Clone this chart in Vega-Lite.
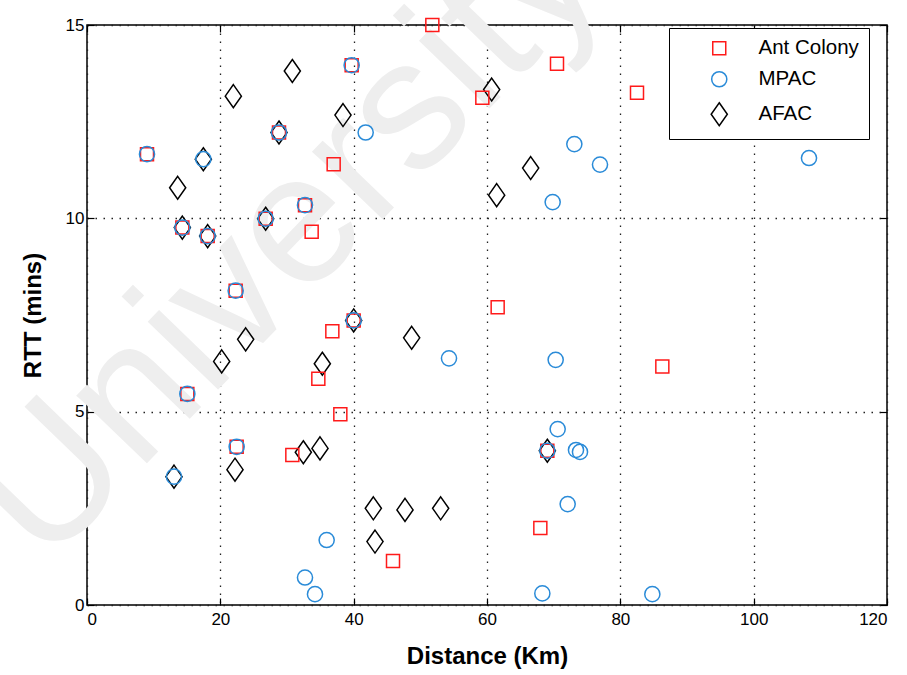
{
  "$schema": "https://vega.github.io/schema/vega-lite/v6.json",
  "width": 800,
  "height": 580,
  "autosize": "none",
  "padding": {"left": 87, "top": 25, "right": 20, "bottom": 70},
  "background": "white",
  "config": {
    "font": "Liberation Sans",
    "view": {"stroke": "black", "strokeWidth": 1.5}
  },
  "resolve": {"axis": {"x": "independent", "y": "independent"}},
  "layer": [
    {
      "data": {"values": [{"x": 30.0, "y": 9.5, "t": "University"}]},
      "mark": {"type": "text", "angle": -46, "fontSize": 185, "color": "#eeeeee", "align": "center", "baseline": "middle", "font": "Liberation Sans"},
      "encoding": {
        "x": {"field": "x", "type": "quantitative", "scale": {"domain": [0, 120], "nice": false}, "axis": {"orient": "top", "labels": false, "grid": false, "domain": false, "ticks": true, "tickSize": -7, "tickColor": "black", "tickWidth": 1.2, "values": [0, 20, 40, 60, 80, 100, 120], "title": null}},
        "y": {"field": "y", "type": "quantitative", "scale": {"domain": [0, 15], "nice": false}, "axis": {"orient": "right", "labels": false, "grid": false, "domain": false, "ticks": true, "tickSize": -7, "tickColor": "black", "tickWidth": 1.2, "values": [0, 5, 10, 15], "title": null}},
        "text": {"field": "t"}
      }
    },
    {
      "data": {"values": [
        {"series": "MPAC", "x": 39.7, "y": 13.96},
        {"series": "MPAC", "x": 41.8, "y": 12.22},
        {"series": "MPAC", "x": 9.0, "y": 11.66},
        {"series": "MPAC", "x": 17.45, "y": 11.53},
        {"series": "MPAC", "x": 32.7, "y": 10.34},
        {"series": "MPAC", "x": 14.3, "y": 9.76},
        {"series": "MPAC", "x": 18.1, "y": 9.54},
        {"series": "MPAC", "x": 22.3, "y": 8.13},
        {"series": "MPAC", "x": 15.05, "y": 5.46},
        {"series": "MPAC", "x": 22.45, "y": 4.09},
        {"series": "MPAC", "x": 13.05, "y": 3.32},
        {"series": "MPAC", "x": 35.95, "y": 1.68},
        {"series": "MPAC", "x": 32.7, "y": 0.71},
        {"series": "MPAC", "x": 34.2, "y": 0.28},
        {"series": "MPAC", "x": 73.1, "y": 11.92},
        {"series": "MPAC", "x": 76.95, "y": 11.39},
        {"series": "MPAC", "x": 69.85, "y": 10.42},
        {"series": "MPAC", "x": 108.3, "y": 11.56},
        {"series": "MPAC", "x": 54.3, "y": 6.38},
        {"series": "MPAC", "x": 70.3, "y": 6.34},
        {"series": "MPAC", "x": 70.6, "y": 4.55},
        {"series": "MPAC", "x": 73.35, "y": 4.01},
        {"series": "MPAC", "x": 73.95, "y": 3.96},
        {"series": "MPAC", "x": 72.1, "y": 2.61},
        {"series": "MPAC", "x": 68.3, "y": 0.3},
        {"series": "MPAC", "x": 84.8, "y": 0.28},
        {"series": "MPAC", "x": 28.8, "y": 12.22},
        {"series": "MPAC", "x": 26.8, "y": 9.99},
        {"series": "MPAC", "x": 40.0, "y": 7.36},
        {"series": "MPAC", "x": 69.05, "y": 3.99},
        {"series": "Ant Colony", "x": 51.8, "y": 15.0},
        {"series": "Ant Colony", "x": 70.5, "y": 14.0},
        {"series": "Ant Colony", "x": 82.5, "y": 13.25},
        {"series": "Ant Colony", "x": 59.3, "y": 13.12},
        {"series": "Ant Colony", "x": 39.7, "y": 13.96},
        {"series": "Ant Colony", "x": 28.8, "y": 12.22},
        {"series": "Ant Colony", "x": 37.0, "y": 11.4},
        {"series": "Ant Colony", "x": 9.0, "y": 11.66},
        {"series": "Ant Colony", "x": 32.7, "y": 10.34},
        {"series": "Ant Colony", "x": 26.8, "y": 9.99},
        {"series": "Ant Colony", "x": 33.7, "y": 9.65},
        {"series": "Ant Colony", "x": 14.3, "y": 9.76},
        {"series": "Ant Colony", "x": 18.1, "y": 9.54},
        {"series": "Ant Colony", "x": 22.3, "y": 8.13},
        {"series": "Ant Colony", "x": 61.6, "y": 7.7},
        {"series": "Ant Colony", "x": 40.0, "y": 7.36},
        {"series": "Ant Colony", "x": 36.8, "y": 7.08},
        {"series": "Ant Colony", "x": 86.3, "y": 6.17},
        {"series": "Ant Colony", "x": 34.7, "y": 5.85},
        {"series": "Ant Colony", "x": 15.05, "y": 5.46},
        {"series": "Ant Colony", "x": 38.0, "y": 4.93},
        {"series": "Ant Colony", "x": 22.45, "y": 4.09},
        {"series": "Ant Colony", "x": 30.8, "y": 3.88},
        {"series": "Ant Colony", "x": 69.05, "y": 3.99},
        {"series": "Ant Colony", "x": 68.0, "y": 1.99},
        {"series": "Ant Colony", "x": 45.9, "y": 1.14},
        {"series": "AFAC", "x": 30.8, "y": 13.81},
        {"series": "AFAC", "x": 21.95, "y": 13.16},
        {"series": "AFAC", "x": 38.4, "y": 12.67},
        {"series": "AFAC", "x": 28.8, "y": 12.22},
        {"series": "AFAC", "x": 17.45, "y": 11.53},
        {"series": "AFAC", "x": 13.6, "y": 10.79},
        {"series": "AFAC", "x": 26.8, "y": 9.99},
        {"series": "AFAC", "x": 14.3, "y": 9.76},
        {"series": "AFAC", "x": 18.1, "y": 9.54},
        {"series": "AFAC", "x": 40.0, "y": 7.36},
        {"series": "AFAC", "x": 23.8, "y": 6.87},
        {"series": "AFAC", "x": 20.2, "y": 6.3},
        {"series": "AFAC", "x": 35.3, "y": 6.24},
        {"series": "AFAC", "x": 32.45, "y": 3.95},
        {"series": "AFAC", "x": 34.95, "y": 4.05},
        {"series": "AFAC", "x": 22.2, "y": 3.5},
        {"series": "AFAC", "x": 13.05, "y": 3.32},
        {"series": "AFAC", "x": 42.95, "y": 2.5},
        {"series": "AFAC", "x": 43.2, "y": 1.64},
        {"series": "AFAC", "x": 47.7, "y": 2.46},
        {"series": "AFAC", "x": 53.05, "y": 2.5},
        {"series": "AFAC", "x": 60.7, "y": 13.33},
        {"series": "AFAC", "x": 66.55, "y": 11.3},
        {"series": "AFAC", "x": 61.45, "y": 10.6},
        {"series": "AFAC", "x": 48.7, "y": 6.91},
        {"series": "AFAC", "x": 69.05, "y": 3.99}
      ]},
      "mark": {"type": "point", "filled": false, "strokeWidth": 1.5, "opacity": 1},
      "encoding": {
        "x": {"field": "x", "type": "quantitative", "scale": {"domain": [0, 120], "nice": false},
          "axis": {"orient": "bottom", "values": [0, 20, 40, 60, 80, 100, 120], "grid": true, "gridDash": [1.5, 6.5], "gridColor": "#222222", "gridWidth": 1.3, "domain": false, "tickSize": -7, "tickColor": "black", "tickWidth": 1.2, "labelPadding": 13, "labelFontSize": 17, "labelColor": "black", "labelFont": "Liberation Sans", "title": "Distance (Km)", "titleFontSize": 24, "titleFontWeight": "bold", "titleColor": "black", "titlePadding": 17, "titleFont": "Liberation Sans"}},
        "y": {"field": "y", "type": "quantitative", "scale": {"domain": [0, 15], "nice": false},
          "axis": {"orient": "left", "values": [0, 5, 10, 15], "grid": true, "gridDash": [1.5, 6.5], "gridColor": "#222222", "gridWidth": 1.3, "domain": false, "tickSize": -7, "tickColor": "black", "tickWidth": 1.2, "labelPadding": 10, "labelFontSize": 17, "labelColor": "black", "labelFont": "Liberation Sans", "title": "RTT (mins)", "titleFontSize": 24, "titleFontWeight": "bold", "titleColor": "black", "titlePadding": 20, "titleFont": "Liberation Sans"}},
        "shape": {"field": "series", "type": "nominal",
          "scale": {"domain": ["Ant Colony", "MPAC", "AFAC"], "range": ["square", "circle", "M0,-1.35L0.95,0L0,1.35L-0.95,0Z"]},
          "legend": {"title": null, "orient": "none", "legendX": 582, "legendY": 3, "strokeColor": "black", "fillColor": "white", "padding": 10, "labelFontSize": 20.5, "labelFont": "Liberation Sans", "labelColor": "black", "rowPadding": 9, "symbolOffset": 30, "labelOffset": 29, "symbolStrokeWidth": 1.5}},
        "color": {"field": "series", "type": "nominal",
          "scale": {"domain": ["Ant Colony", "MPAC", "AFAC"], "range": ["#ff1a1a", "#2a8bd8", "#000000"]}},
        "size": {"field": "series", "type": "nominal",
          "scale": {"domain": ["Ant Colony", "MPAC", "AFAC"], "range": [169, 289, 225]}},
        "order": {"field": "series"}
      }
    }
  ]
}
